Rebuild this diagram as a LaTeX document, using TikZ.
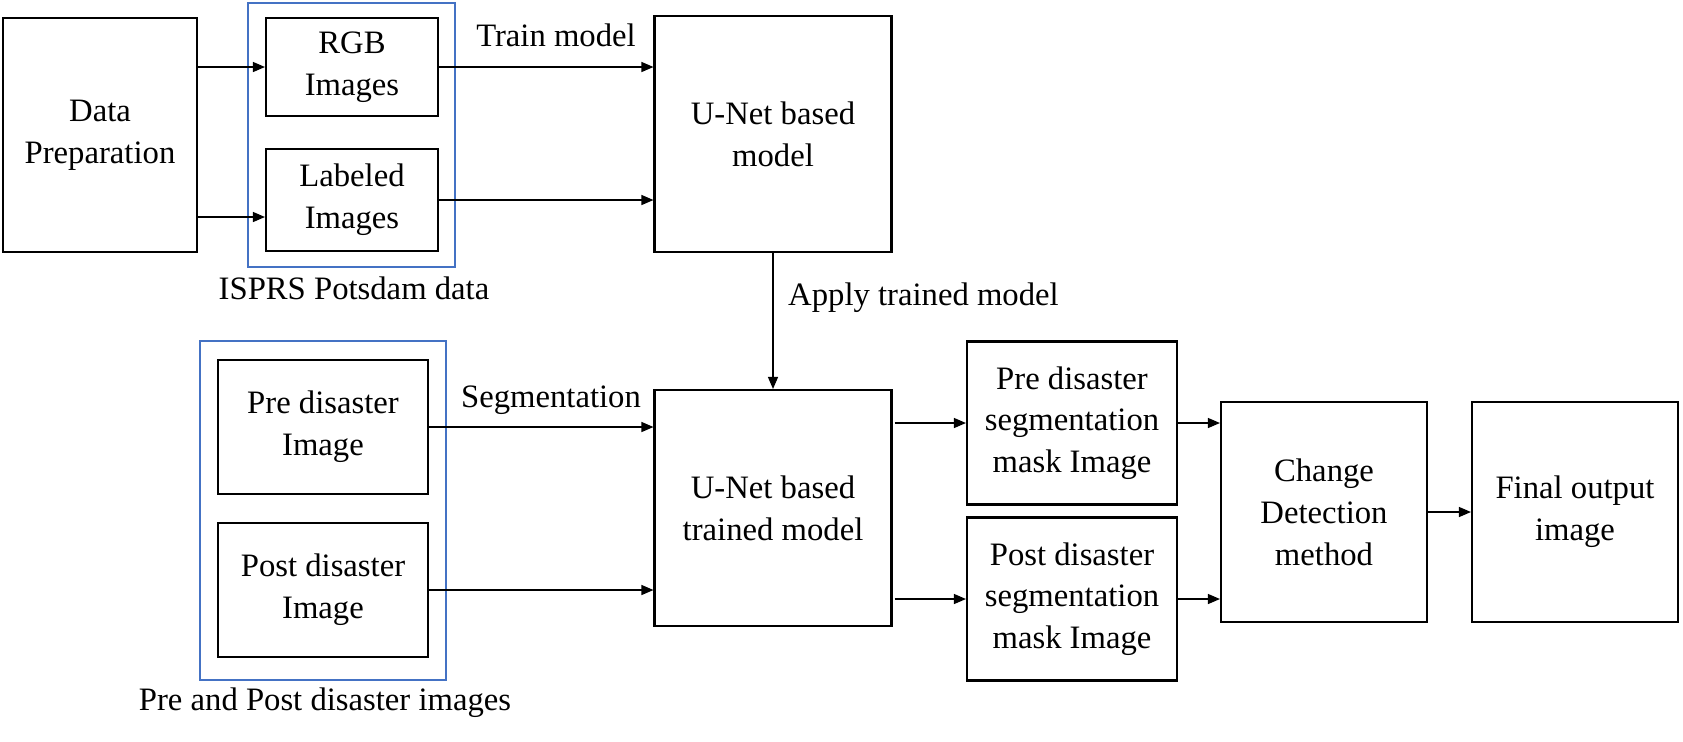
\documentclass[tikz,border=0pt]{standalone}
\usepackage{fontspec}
\setmainfont{Liberation Serif}
\usepackage{xcolor}
\usepackage{tikz}
\usetikzlibrary{arrows.meta}
\tikzstyle{block} = [rectangle, draw, line width=0.6pt, align=center, inner sep=2pt]
\tikzstyle{groupbox} = [draw=gblue, line width=0.5pt]
\tikzstyle{arrow} = [draw, line width=0.35pt, -{Triangle[length=0.12cm, width=0.1cm]}]
\tikzstyle{label} = [align=center, inner sep=1pt]
\definecolor{gblue}{HTML}{4472C4}

\begin{document}
\begin{tikzpicture}[font=\fontsize{9.3}{11.9}\selectfont]
    \useasboundingbox (0, 0) rectangle (16.83, -7.41);
    % training data
    \node[block, minimum width=1.94cm, minimum height=2.34cm] at (1.00, -1.35) (prep) {Data\\Preparation};
    \draw[groupbox] (2.48, -0.03) rectangle (4.55, -2.67);
    \node[block, minimum width=1.72cm, minimum height=0.98cm] at (3.52, -0.67) (rgb) {RGB\\Images};
    \node[block, minimum width=1.72cm, minimum height=1.02cm] at (3.52, -2.00) (lab) {Labeled\\Images};
    \node[label] at (3.54, -2.88) (isprs) {ISPRS Potsdam data};
    \path[arrow] (prep.east |- rgb.west) to (rgb.west);
    \path[arrow] ([yshift=-0.17cm]prep.east |- lab.west) to ([yshift=-0.17cm]lab.west);
    % model
    \node[block, minimum width=2.37cm, minimum height=2.36cm] at (7.73, -1.34) (unet) {U-Net based\\model};
    \node[label] at (5.56, -0.35) (train) {Train model};
    \path[arrow] (rgb.east) to (rgb.east -| unet.west);
    \path[arrow] (lab.east) to (lab.east -| unet.west);
    % disaster images
    \draw[groupbox] (2.00, -3.41) rectangle (4.46, -6.80);
    \node[block, minimum width=2.10cm, minimum height=1.34cm] at (3.23, -4.27) (pre) {Pre disaster\\Image};
    \node[block, minimum width=2.10cm, minimum height=1.34cm] at (3.23, -5.90) (post) {Post disaster\\Image};
    \node[label] at (3.25, -7.03) (prepost) {Pre and Post disaster images};
    % trained model
    \node[block, minimum width=2.37cm, minimum height=2.36cm] at (7.73, -5.08) (trained) {U-Net based\\trained model};
    \path[arrow] (unet.south) to (trained.north);
    \node[label, anchor=west] at (7.84, -2.98) (apply) {Apply trained model};
    \node[label] at (5.51, -4.00) (seg) {Segmentation};
    \path[arrow] (pre.east) to (pre.east -| trained.west);
    \path[arrow] (post.east) to (post.east -| trained.west);
    % masks
    \node[block, minimum width=2.10cm, minimum height=1.63cm] at (10.72, -4.23) (premask) {Pre disaster\\segmentation\\mask Image};
    \node[block, minimum width=2.10cm, minimum height=1.63cm] at (10.72, -5.99) (postmask) {Post disaster\\segmentation\\mask Image};
    \path[arrow] ([xshift=0.02cm]trained.east |- premask.west) to (premask.west);
    \path[arrow] ([xshift=0.02cm]trained.east |- postmask.west) to (postmask.west);
    % change detection
    \node[block, minimum width=2.06cm, minimum height=2.20cm] at (13.24, -5.12) (cd) {Change\\Detection\\method};
    \node[block, minimum width=2.06cm, minimum height=2.20cm] at (15.75, -5.12) (final) {Final output\\image};
    \path[arrow] (premask.east) to (premask.east -| cd.west);
    \path[arrow] (postmask.east) to (postmask.east -| cd.west);
    \path[arrow] (cd.east) to (final.west);
\end{tikzpicture}
\end{document}
